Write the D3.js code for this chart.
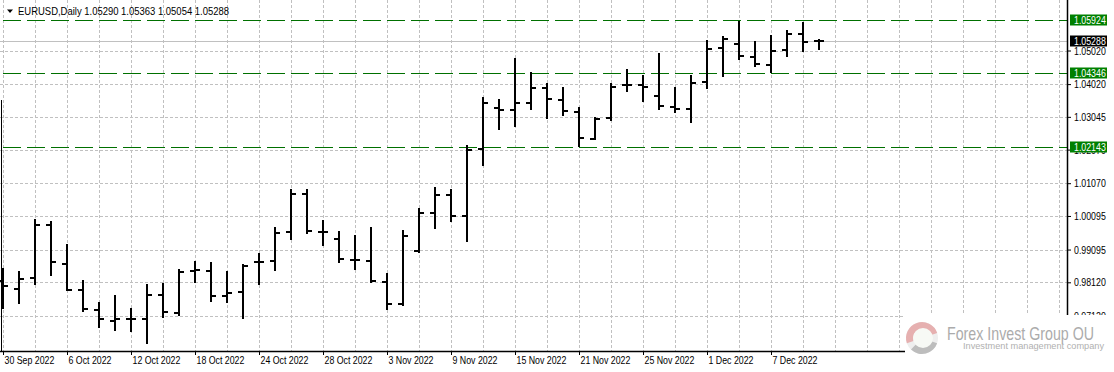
<!DOCTYPE html>
<html>
<head>
<meta charset="utf-8">
<script src="https://cdn.jsdelivr.net/npm/d3@7.9.0/dist/d3.min.js"></script>
<style>
  html, body { margin: 0; padding: 0; background: #fff; }
  svg { display: block; font-family: "Liberation Sans", Arial, sans-serif; }
</style>
</head>
<body>
<div id="chart"></div>
<script>
// ---- data ----
const dates = [
  '2022-09-30','2022-10-03','2022-10-04','2022-10-05','2022-10-06','2022-10-07',
  '2022-10-10','2022-10-11','2022-10-12','2022-10-13','2022-10-14','2022-10-17',
  '2022-10-18','2022-10-19','2022-10-20','2022-10-21','2022-10-24','2022-10-25',
  '2022-10-26','2022-10-27','2022-10-28','2022-10-31','2022-11-01','2022-11-02',
  '2022-11-03','2022-11-04','2022-11-07','2022-11-08','2022-11-09','2022-11-10',
  '2022-11-11','2022-11-14','2022-11-15','2022-11-16','2022-11-17','2022-11-18',
  '2022-11-21','2022-11-22','2022-11-23','2022-11-24','2022-11-25','2022-11-28',
  '2022-11-29','2022-11-30','2022-12-01','2022-12-02','2022-12-05','2022-12-06',
  '2022-12-07','2022-12-08','2022-12-09','2022-12-12'
];
const opens = [
  0.9815, 0.9793, 0.9826, 0.9983, 0.9867, 0.9790, 0.9730, 0.9698, 0.9704, 0.9704,
  0.9775, 0.9721, 0.9847, 0.9847, 0.9772, 0.9783, 0.9872, 0.9876, 0.9962, 1.0075,
  0.9962, 0.9942, 0.9879, 0.9876, 0.9814, 0.9748, 0.9904, 1.0019, 1.0073, 1.0010,
  1.0210, 1.0332, 1.0326, 1.0347, 1.0391, 1.0356, 1.0320, 1.0239, 1.0302, 1.0400,
  1.0400, 1.0367, 1.0335, 1.0329, 1.0407, 1.0509, 1.0521, 1.0484, 1.0460, 1.0504,
  1.0552, 1.05290
];
const highs = [
  0.9854, 0.9846, 1.0000, 0.9994, 0.9926, 0.9819, 0.9752, 0.9774, 0.9735, 0.9806,
  0.9810, 0.9851, 0.9875, 0.9872, 0.9846, 0.9867, 0.9898, 0.9977, 1.0089, 1.0091,
  0.9997, 0.9964, 0.9952, 0.9976, 0.9839, 0.9967, 1.0032, 1.0095, 1.0089, 1.0221,
  1.0363, 1.0357, 1.0480, 1.0437, 1.0404, 1.0392, 1.0333, 1.0305, 1.0404, 1.0446,
  1.0428, 1.0494, 1.0392, 1.0428, 1.0532, 1.0544, 1.0589, 1.0529, 1.0547, 1.0562,
  1.0586, 1.05363
];
const lows = [
  0.9735, 0.9751, 0.9806, 0.9835, 0.9789, 0.9726, 0.9680, 0.9671, 0.9668, 0.9632,
  0.9708, 0.9716, 0.9812, 0.9757, 0.9754, 0.9705, 0.9806, 0.9848, 0.9942, 0.9958,
  0.9924, 0.9872, 0.9852, 0.9812, 0.9732, 0.9745, 0.9903, 0.9973, 0.9994, 0.9934,
  1.0162, 1.0269, 1.0278, 1.0329, 1.0302, 1.0311, 1.0219, 1.0239, 1.0296, 1.0381,
  1.0353, 1.0329, 1.0318, 1.0288, 1.0391, 1.0425, 1.0478, 1.0457, 1.0439, 1.0487,
  1.0501, 1.05054
];
const closes = [
  0.9802, 0.9823, 0.9983, 0.9872, 0.9790, 0.9733, 0.9704, 0.9704, 0.9704, 0.9775,
  0.9724, 0.9844, 0.9850, 0.9772, 0.9781, 0.9861, 0.9873, 0.9960, 1.0075, 0.9964,
  0.9962, 0.9881, 0.9879, 0.9816, 0.9748, 0.9951, 1.0017, 1.0071, 1.0010, 1.0206,
  1.0347, 1.0326, 1.0347, 1.0391, 1.0359, 1.0323, 1.0242, 1.0299, 1.0394, 1.0400,
  1.0394, 1.0338, 1.0329, 1.0404, 1.0507, 1.0536, 1.0487, 1.0463, 1.0501, 1.0551,
  1.0528, 1.05288
];

const labelDates = [
  '2022-09-30','2022-10-06','2022-10-12','2022-10-18','2022-10-24','2022-10-28',
  '2022-11-03','2022-11-09','2022-11-15','2022-11-21','2022-11-25','2022-12-01',
  '2022-12-07'
];
const priceTicks = [1.05020, 1.04020, 1.03045, 1.02070, 1.01070, 1.00095, 0.99095, 0.98120, 0.97120];
const levelPrices = [1.05924, 1.04346, 1.02143];
const bidPrice = 1.05288;
const symbolName = 'EURUSD,Daily';

// ---- layout ----
const W = 1114, H = 372;
const plotRight = 1067, plotBottom = 351;
const barStep = 16;
const textSqueeze = 0.8;

const svg = d3.select('#chart').append('svg')
  .attr('width', W).attr('height', H)
  .attr('viewBox', `0 0 ${W} ${H}`);

const x = d3.scaleLinear()
  .domain([0, dates.length - 1])
  .range([3, 3 + barStep * (dates.length - 1)]);
const y = d3.scaleLinear()
  .domain([0.97120, 1.05020])
  .range([315.9, 50.5]);

const crisp = v => Math.round(v) + 0.5;

// grid (vertical every 2 bars, runs on past last bar)
const gridIdx = d3.range(0, 67, 2).filter(i => x(i) < plotRight);
svg.append('g').attr('class', 'vgrid')
  .selectAll('line').data(gridIdx).join('line')
  .attr('x1', d => x(d) + 0.5).attr('x2', d => x(d) + 0.5)
  .attr('y1', 0).attr('y2', plotBottom)
  .attr('stroke', '#c0c0c0').attr('stroke-dasharray', '3,2');

svg.append('g').attr('class', 'hgrid')
  .selectAll('line').data(priceTicks).join('line')
  .attr('x1', 0).attr('x2', plotRight)
  .attr('y1', d => crisp(y(d))).attr('y2', d => crisp(y(d)))
  .attr('stroke', '#c0c0c0').attr('stroke-dasharray', '3,2');

// bid line
svg.append('line')
  .attr('x1', 0).attr('x2', plotRight)
  .attr('y1', crisp(y(bidPrice))).attr('y2', crisp(y(bidPrice)))
  .attr('stroke', '#c0c0c0');

// horizontal level lines
svg.append('g').attr('class', 'levels')
  .selectAll('line').data(levelPrices).join('line')
  .attr('x1', 0).attr('x2', plotRight)
  .attr('y1', d => crisp(y(d))).attr('y2', d => crisp(y(d)))
  .attr('stroke', '#007000').attr('stroke-width', 1)
  .attr('stroke-dasharray', '18,6').attr('stroke-dashoffset', -3);

// OHLC bars
const bars = svg.append('g').attr('class', 'bars')
  .selectAll('g').data(dates.map((d, i) => i)).join('g');
bars.append('rect')
  .attr('x', i => x(i) - 1).attr('width', 2)
  .attr('y', i => Math.round(y(highs[i])))
  .attr('height', i => Math.max(2, Math.round(y(lows[i])) - Math.round(y(highs[i])) + 1));
bars.append('rect')
  .attr('x', i => x(i) - 5).attr('width', 4)
  .attr('y', i => Math.round(y(opens[i])) - 1).attr('height', 2);
bars.append('rect')
  .attr('x', i => x(i) + 1).attr('width', 4)
  .attr('y', i => Math.round(y(closes[i])) - 1).attr('height', 2);

// axes
const parse = d3.timeParse('%Y-%m-%d');
const fmtDate = d3.timeFormat('%-d %b %Y');

const xAxis = svg.append('g')
  .attr('transform', `translate(0,${plotBottom})`)
  .call(d3.axisBottom(x)
    .tickValues(labelDates.map(d => dates.indexOf(d)))
    .tickSize(4)
    .tickFormat(i => fmtDate(parse(dates[i]))));
xAxis.select('.domain').remove();
xAxis.selectAll('.tick line').attr('stroke', '#000');
xAxis.selectAll('.tick text')
  .attr('text-anchor', 'start')
  .attr('x', 1 / textSqueeze).attr('y', 13.5).attr('dy', null)
  .attr('transform', `scale(${textSqueeze},1)`)
  .attr('fill', '#000').style('font-size', '11px').style('font-family', null);

const yAxis = svg.append('g')
  .attr('transform', `translate(${plotRight},0)`)
  .call(d3.axisRight(y)
    .tickValues(priceTicks)
    .tickSize(4)
    .tickFormat(d3.format('.5f')));
yAxis.select('.domain').remove();
yAxis.selectAll('.tick line').attr('stroke', '#000');
yAxis.selectAll('.tick text')
  .attr('x', 7 / textSqueeze)
  .attr('transform', `scale(${textSqueeze},1)`)
  .attr('fill', '#000').style('font-size', '11px').style('font-family', null);

// frame lines
svg.append('line')
  .attr('x1', 0).attr('x2', plotRight + 1)
  .attr('y1', plotBottom + 0.5).attr('y2', plotBottom + 0.5)
  .attr('stroke', '#000').attr('stroke-width', 1.5);
svg.append('line')
  .attr('x1', plotRight + 0.5).attr('x2', plotRight + 0.5)
  .attr('y1', 0).attr('y2', plotBottom + 1)
  .attr('stroke', '#000').attr('stroke-width', 1.5);
svg.append('line')
  .attr('x1', 1.5).attr('x2', 1.5)
  .attr('y1', 100).attr('y2', plotBottom)
  .attr('stroke', '#000').attr('stroke-width', 1);

// price labels on the axis
const tags = [
  ...levelPrices.map(p => ({ p, fill: '#008000' })),
  { p: bidPrice, fill: '#000' }
];
const tag = svg.append('g').attr('class', 'tags')
  .selectAll('g').data(tags).join('g')
  .attr('transform', d => `translate(1070,${Math.round(y(d.p))})`);
tag.append('rect')
  .attr('x', 0).attr('y', -5.5).attr('width', 37).attr('height', 11)
  .attr('fill', d => d.fill);
tag.append('text')
  .attr('x', 4 / textSqueeze).attr('dy', '0.36em')
  .attr('transform', `scale(${textSqueeze},1)`)
  .attr('fill', '#fff').style('font-size', '11px')
  .text(d => d3.format('.5f')(d.p));

// title
svg.append('path').attr('d', 'M7,9.5 L13,9.5 L10,13 Z').attr('fill', '#000');
const last = dates.length - 1;
svg.append('text')
  .attr('x', 18).attr('y', 15)
  .attr('textLength', 211).attr('lengthAdjust', 'spacingAndGlyphs')
  .style('font-size', '11.5px').attr('fill', '#000')
  .text(`${symbolName} ${[opens[last], highs[last], lows[last], closes[last]].map(d3.format('.5f')).join(' ')}`);

// watermark logo (sits on top of the corner)
const logo = svg.append('g').attr('class', 'logo');
logo.append('rect').attr('x', 905).attr('y', 315).attr('width', W - 905).attr('height', 42).attr('fill', '#fff');
const cx = 922, cy = 338;
logo.append('circle').attr('cx', cx).attr('cy', cy).attr('r', 16).attr('fill', '#eeeeee');
const arc = d3.arc().innerRadius(9).outerRadius(16);
logo.append('path').attr('transform', `translate(${cx},${cy})`)
  .attr('d', arc({ startAngle: -1.9, endAngle: 1.25 })).attr('fill', '#e6b0b0');
logo.append('path').attr('transform', `translate(${cx},${cy})`)
  .attr('d', arc({ startAngle: 1.9, endAngle: 3.9 })).attr('fill', '#bdbdbd');
logo.append('circle').attr('cx', cx + 1).attr('cy', cy).attr('r', 10).attr('fill', '#f7f9f5');
logo.append('text')
  .attr('x', 947).attr('y', 339.5)
  .attr('textLength', 147).attr('lengthAdjust', 'spacingAndGlyphs')
  .style('font-size', '19px').attr('fill', '#ababab')
  .text('Forex Invest Group OU');
logo.append('text')
  .attr('x', 963).attr('y', 349)
  .attr('textLength', 141).attr('lengthAdjust', 'spacingAndGlyphs')
  .style('font-size', '9px').attr('fill', '#b0b0b0')
  .text('Investment management company');
</script>
</body>
</html>
